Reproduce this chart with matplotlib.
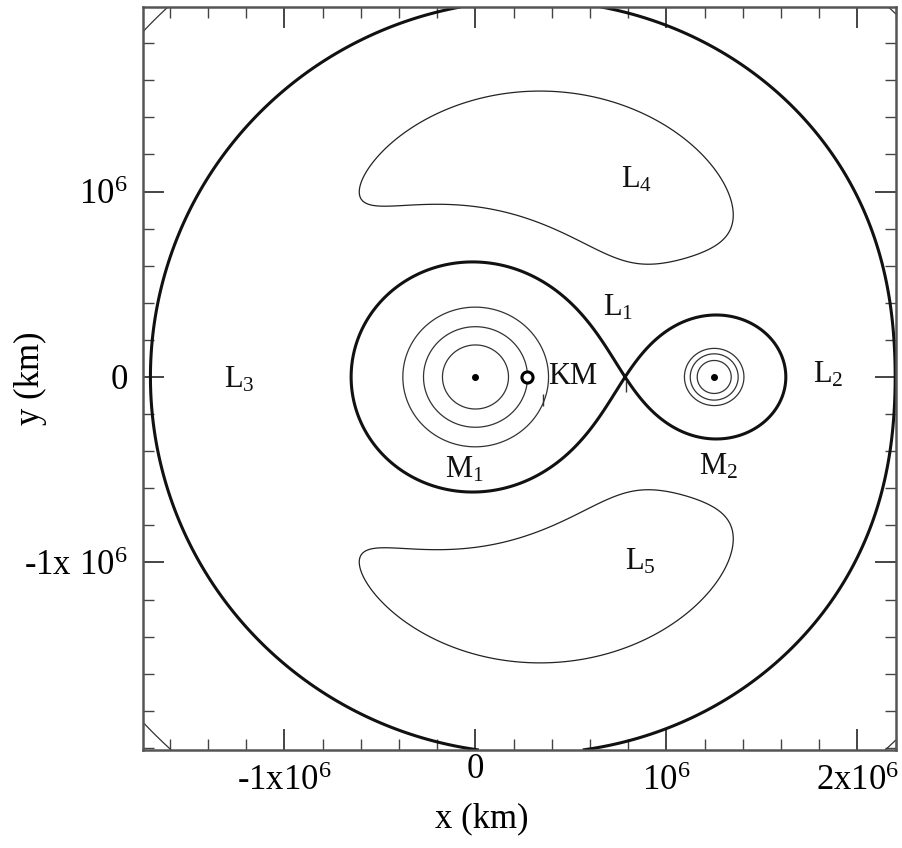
import numpy as np
import matplotlib
matplotlib.use('Agg')
import matplotlib.pyplot as plt
from matplotlib.ticker import MultipleLocator

plt.rcParams['font.family'] = ['Liberation Serif', 'DejaVu Serif']
plt.rcParams['mathtext.fontset'] = 'custom'
plt.rcParams['mathtext.rm'] = 'Liberation Serif'
plt.rcParams['mathtext.it'] = 'Liberation Serif:italic'
plt.rcParams['mathtext.bf'] = 'Liberation Serif:bold'

# ---------------- data ----------------
separation_km = 1.25e6          # distance M1 - M2
mass_ratio = 0.22               # m2 / (m1 + m2)
body_x_km = [0.0, 1.25e6]       # M1, M2 on the x axis
km_marker_x = [0.27e6]          # "KM" point
banana_levels = [1.533]         # curves round L4 / L5
shared_levels = [2.87]          # outer rings of M1 / M2 and the corner arcs
m1_levels = [3.86, 5.90]        # inner rings round M1
m2_levels = [3.29, 4.18]        # inner rings round M2
tick_marks_x = [0.79e6, 0.353e6]
tick_marks_y = [-0.05e6, -0.124e6]

label_text = ['L$_4$', 'L$_1$', 'L$_3$', 'L$_2$', 'L$_5$', 'M$_1$', 'M$_2$', 'KM']
label_x = [0.846e6, 0.746e6, -1.238e6, 1.846e6, 0.861e6, -0.06e6, 1.27e6, 0.51e6]
label_y = [1.062e6, 0.372e6, -0.016e6, 0.011e6, -0.997e6, -0.50e6, -0.485e6, 0.0]

xtick_vals = [-1e6, 0, 1e6, 2e6]
xtick_labels = ['-1x10$^6$', '0', '10$^6$', '2x10$^6$']
ytick_vals = [-1e6, 0, 1e6]
ytick_labels = ['-1x 10$^6$', '0', '10$^6$']
x_limits = (-1.741e6, 2.2016e6)
y_limits = (-2.011e6, 1.995e6)

# ---------------- effective potential ----------------
def omega(xkm, ykm):
    xb = xkm / separation_km - mass_ratio
    yb = ykm / separation_km
    r1 = np.hypot(xb + mass_ratio, yb)
    r2 = np.hypot(xb - 1 + mass_ratio, yb)
    return 0.5 * (xb**2 + yb**2) + (1 - mass_ratio) / r1 + mass_ratio / r2

xs = np.linspace(x_limits[0], x_limits[1], 1601) + 137.0
ys = np.linspace(y_limits[0], y_limits[1], 1601) + 91.0
X, Y = np.meshgrid(xs, ys)
Z = omega(X, Y)

# L1 saddle level (minimum of the potential on the axis between the bodies)
xline = np.linspace(body_x_km[0] + 0.05 * separation_km, body_x_km[1] - 0.05 * separation_km, 20001)
l1_level = omega(xline, 0.0 * xline).min()

mid_x = 0.5 * (body_x_km[0] + body_x_km[1])
Z_m1 = np.ma.masked_where(X > mid_x, Z)
Z_m2 = np.ma.masked_where(X < mid_x, Z)

fig = plt.figure(figsize=(9.02, 8.48), dpi=100)
ax = fig.add_axes([0.1585, 0.1156, 0.8348, 0.8762])

thin = dict(colors='#333333', linewidths=0.9)
ax.contour(X, Y, Z, levels=banana_levels, colors='#222222', linewidths=0.9)
ax.contour(X, Y, Z, levels=shared_levels, **thin)
ax.contour(X, Y, Z_m1, levels=m1_levels, **thin)
ax.contour(X, Y, Z_m2, levels=m2_levels, **thin)
ax.contour(X, Y, Z, levels=[l1_level], colors='#111111', linewidths=2.2)

ax.plot(body_x_km, [0, 0], 'o', ms=4, color='black')
ax.plot(km_marker_x, [0], 'o', ms=8, mfc='white', mec='black', mew=2.2)
ax.plot(tick_marks_x, tick_marks_y, '|', ms=9, mew=1.0, color='#333333')

for t, x, y in zip(label_text, label_x, label_y):
    ax.text(x, y, t, ha='center', va='center', fontsize=22, color='#111111')

ax.set_xlim(*x_limits)
ax.set_ylim(*y_limits)
ax.set_xticks(xtick_vals)
ax.set_xticklabels(xtick_labels)
ax.set_yticks(ytick_vals)
ax.set_yticklabels(ytick_labels)
ax.xaxis.set_minor_locator(MultipleLocator(2e5))
ax.yaxis.set_minor_locator(MultipleLocator(2e5))
ax.tick_params(which='major', direction='in', length=15, width=1.4, color='#444444',
               top=True, right=True, pad=11, labelsize=25)
ax.tick_params(which='minor', direction='in', length=8, width=1.0, color='#444444',
               top=True, right=True)
for s in ax.spines.values():
    s.set_color('#555555')
    s.set_linewidth(1.8)

ax.xaxis.get_major_ticks()[1].label1.set_y(0.016)

ax.set_xlabel('x (km)', fontsize=25)
ax.set_ylabel('y (km)', fontsize=25)
ax.xaxis.set_label_coords(0.45, -0.07)
ax.yaxis.set_label_coords(-0.127, 0.5)

fig.savefig('out.png', dpi=100)
